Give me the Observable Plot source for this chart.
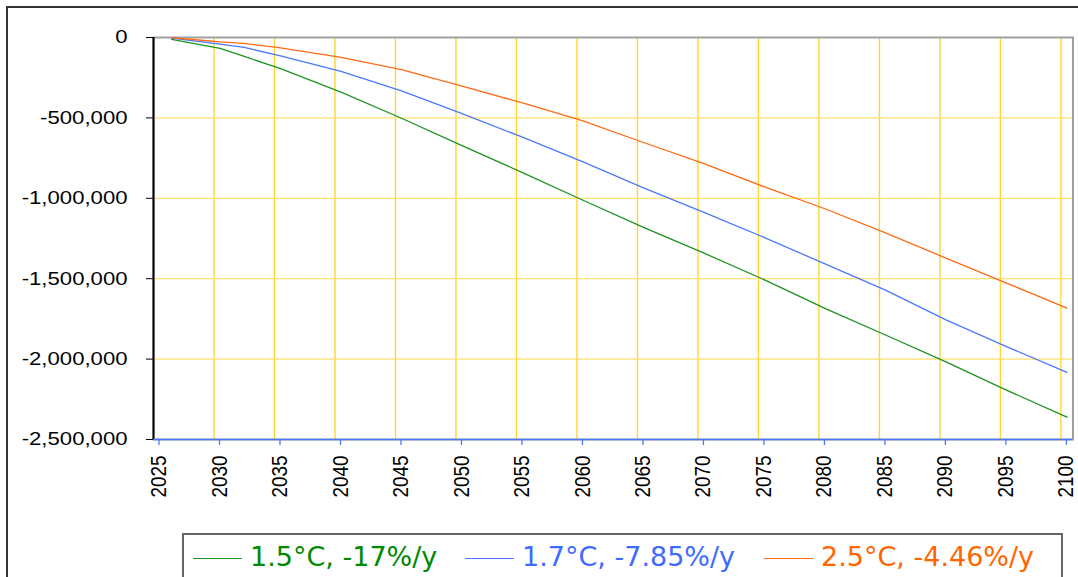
<!DOCTYPE html>
<html>
<head>
<meta charset="utf-8">
<script src="https://cdn.jsdelivr.net/npm/d3@7"></script>
<script src="https://cdn.jsdelivr.net/npm/@observablehq/plot@0.6"></script>
<style>
  html, body { margin: 0; padding: 0; background: #fff; overflow: hidden; }
  #wrap { position: relative; width: 1078px; height: 577px; overflow: hidden; }
  #outer { position: absolute; left: 6px; top: 6px; width: 1200px; height: 800px;
           border-left: 2px solid #333; border-top: 2px solid #333; }
  #chart { position: absolute; left: 0; top: 0; }
  #legend { position: absolute; left: 182px; top: 533px; width: 877px; height: 80px;
            border: 2px solid #666; background: #fff;
            font-family: "DejaVu Sans", sans-serif; font-size: 27px; }
  .item { position: absolute; top: 6px; display: flex; align-items: center; white-space: nowrap; }
  .swatch { width: 49px; height: 0; border-top: 1.5px solid; margin-right: 8px; margin-top: 4px; }
</style>
</head>
<body>
<div id="wrap">
  <div id="outer"></div>
  <div id="chart"></div>
  <div id="legend"></div>
</div>
<script>
// ---- data ----
const years = [2026, 2028, 2030, 2032, 2035, 2040, 2045, 2050, 2055, 2060, 2065, 2070, 2075, 2080, 2085, 2090, 2095, 2100];
const seriesNames = ["1.5°C, -17%/y", "1.7°C, -7.85%/y", "2.5°C, -4.46%/y"];
const green15 = [-12000, -40000, -67000, -118000, -193000, -340000, -502000, -672000, -840000, -1012000, -1181000, -1341000, -1507000, -1684000, -1850000, -2017000, -2193000, -2361000];
const blue17  = [-3000, -23000, -41000, -62000, -114000, -210000, -332000, -474000, -620000, -774000, -935000, -1088000, -1244000, -1408000, -1571000, -1756000, -1922000, -2083000];
const orange25 = [-2000, -14000, -27000, -36000, -65000, -123000, -200000, -303000, -407000, -518000, -653000, -785000, -929000, -1065000, -1215000, -1372000, -1527000, -1683000];
const xTicks = [2025, 2030, 2035, 2040, 2045, 2050, 2055, 2060, 2065, 2070, 2075, 2080, 2085, 2090, 2095, 2100];
const yTicks = [0, -500000, -1000000, -1500000, -2000000, -2500000];

const colors = ["#1e921e", "#4a78ff", "#ff6a14"];
const textColors = ["#008a00", "#3f6bff", "#ff6600"];

const seriesValues = [green15, blue17, orange25];
const rows = [];
seriesNames.forEach((name, i) => {
  years.forEach((yr, j) => rows.push({series: name, year: yr, value: seriesValues[i][j]}));
});

const fmt = d => d.toLocaleString("en-US");

const chart = Plot.plot({
  width: 1078,
  height: 520,
  marginLeft: 153,
  marginTop: 37,
  marginRight: 5.5,
  marginBottom: 81,
  x: {domain: [2025, 2101], label: null},
  y: {domain: [-2500000, 0], label: null},
  color: {domain: seriesNames, range: colors},
  style: {background: "transparent", color: "#000", fontFamily: "Liberation Sans, Arial, sans-serif", fontSize: "18.6px", overflow: "visible"},
  marks: [
    Plot.gridX(xTicks.filter(t => t > 2025), {stroke: "#FFD630", strokeOpacity: 1, strokeWidth: 1.4}),
    Plot.gridY(yTicks.filter(t => t < 0 && t > -2500000), {stroke: "#FFE070", strokeOpacity: 1, strokeWidth: 1.3}),
    Plot.frame({stroke: "#a0a0a0", strokeWidth: 2}),
    Plot.line(rows, {x: d => d.year + 0.5, y: "value", z: "series", stroke: "series", strokeWidth: 1.3}),
    Plot.ruleX([2025], {stroke: "#000", strokeWidth: 2}),
    Plot.ruleY([-2500000], {stroke: "#4a78ff", strokeWidth: 1.5}),
    Plot.axisY({ticks: yTicks, tickSize: 7, tickPadding: 19, tickFormat: fmt, stroke: "#000", label: null}),
    Plot.axisX({ticks: xTicks, tickSize: 6, tickPadding: 10, tickRotate: -90, tickFormat: d => String(d), stroke: "#4a78ff", strokeWidth: 1.3, fill: "#000", dx: 5.5, label: null})
  ]
});

document.getElementById("chart").appendChild(chart);

// tick label typography
d3.select(chart).selectAll('g[aria-label="x-axis tick label"] text')
  .attr("font-size", "22px")
  .attr("textLength", 42)
  .attr("lengthAdjust", "spacingAndGlyphs");
d3.select(chart).selectAll('g[aria-label="y-axis tick label"] text').each(function() {
  const w = this.getComputedTextLength();
  this.setAttribute("textLength", (w * 1.19).toFixed(1));
  this.setAttribute("lengthAdjust", "spacingAndGlyphs");
});

// legend
const legend = document.getElementById("legend");
const itemLefts = [9, 281, 580];
seriesNames.forEach((name, i) => {
  const it = document.createElement("div");
  it.className = "item";
  it.style.left = itemLefts[i] + "px";
  const sw = document.createElement("span");
  sw.className = "swatch";
  sw.style.borderTopColor = colors[i];
  const tx = document.createElement("span");
  tx.textContent = name;
  tx.style.color = textColors[i];
  it.appendChild(sw);
  it.appendChild(tx);
  legend.appendChild(it);
});
</script>
</body>
</html>
